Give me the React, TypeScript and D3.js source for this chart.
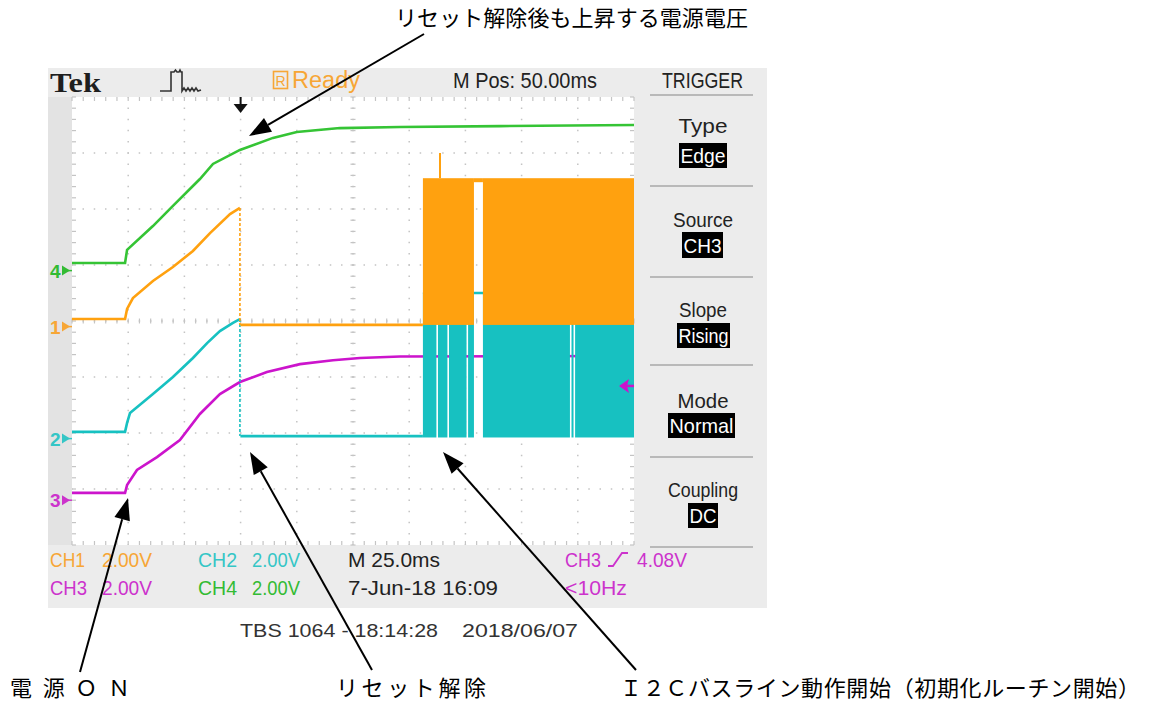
import * as d3 from "d3";

const WIDTH = 1150;
const HEIGHT = 704;

// scope settings: 25 ms/div, 2 V/div, 10 x 8 divisions
const timeDomain = [0, 250];
const timeTicks = d3.range(0, 251, 25);
const divTicks = d3.range(-4, 5, 1);
const VOLTS_PER_DIV = 2;
const RESET_T = 74.8; // reset release (fast falling edges)
const TRIGGER_T = 75;
const TRIGGER_LEVEL = 4.08;

// channel ground position, in divisions from centre
const ch1Offset = -0.1;
const ch2Offset = -2.1;
const ch3Offset = -3.2;
const ch4Offset = 0.9;

// CH4 (green) supply voltage: time ms / volts
const ch4Time = [0, 23.6, 24.5, 36.0, 44.9, 56.9, 62.7, 74.7, 89.4, 100, 119.2, 145.9, 190.4, 250];
const ch4Volt = [0.27, 0.27, 0.74, 1.59, 2.31, 3.27, 3.81, 4.31, 4.74, 4.95, 5.09, 5.13, 5.16, 5.2];

// CH1 (orange) SCL
const ch1Time = [0, 23.6, 24.5, 27.1, 36.0, 44.9, 53.8, 61.4, 70.3, 74.7, 74.9, 156.1];
const ch1Volt = [0.27, 0.27, 0.63, 1.02, 1.63, 2.13, 2.7, 3.34, 4.02, 4.24, 0.06, 0.06];
const ch1Bursts = [
  [156.1, 178.8],
  [182.8, 250],
];
const ch1Levels = [0.06, 5.3];
const ch1Spike = [163.7, 6.2];

// CH2 (cyan) SDA
const ch2Time = [0, 23.6, 24.5, 25.8, 36.0, 44.9, 53.8, 60.1, 65.8, 71.6, 74.7, 74.9, 156.1];
const ch2Volt = [0.24, 0.24, 0.56, 0.91, 1.59, 2.2, 2.88, 3.41, 3.84, 4.13, 4.27, 0.09, 0.09];
const ch2Bursts = [
  [156.1, 162.1],
  [162.8, 167.0],
  [167.7, 175.5],
  [176.2, 178.8],
  [182.8, 221.5],
  [222.2, 223.1],
  [223.8, 250],
];
const ch2Levels = [0.04, 5.2];

// CH3 (magenta) reset line
const ch3Time = [0, 23.6, 24.5, 28.9, 37.8, 48.0, 56.9, 65.8, 74.7, 86.7, 101.4, 116.1, 128.1, 145.9, 250];
const ch3Volt = [0.26, 0.26, 0.54, 1.08, 1.54, 2.15, 3.08, 3.79, 4.22, 4.58, 4.86, 5.0, 5.08, 5.13, 5.15];

const C1 = "#FFA10F";
const C2 = "#17C1C1";
const C3 = "#CC14CC";
const C4 = "#35C435";
const T1 = "#F7A636";
const T2 = "#35C6C6";
const T3 = "#CC33CC";
const T4 = "#33BB33";

const NARROW = "'Liberation Sans', Arial, sans-serif";
const JP = "'Noto Sans CJK JP', 'Noto Sans CJK SC', sans-serif";

const X0 = 72;
const X1 = 634;
const Y0 = 97;
const Y1 = 545;

const x = d3.scaleLinear().domain(timeDomain).range([X0, X1]);
const yDiv = d3.scaleLinear().domain([-4, 4]).range([Y1, Y0]);
const yCh = (offset: number) => (v: number) => yDiv(offset + v / VOLTS_PER_DIV);

type Pt = [number, number];
const zip = (t: number[], v: number[]): Pt[] => t.map((d, i) => [d, v[i]]);

const Narrow = ({ x, y, len, size = 21, fill = "#222", anchor = "start", children }: any) => (
  <text
    x={x}
    y={y}
    fontFamily={NARROW}
    fontSize={size}
    fill={fill}
    textAnchor={anchor}
    textLength={len}
    lengthAdjust="spacingAndGlyphs"
  >
    {children}
  </text>
);

const Arrow = ({ from, to }: { from: Pt; to: Pt }) => {
  const ang = Math.atan2(to[1] - from[1], to[0] - from[0]);
  const L = 22;
  const W = 8;
  const bx = to[0] - L * Math.cos(ang);
  const by = to[1] - L * Math.sin(ang);
  const px = -Math.sin(ang) * W;
  const py = Math.cos(ang) * W;
  return (
    <g>
      <line x1={from[0]} y1={from[1]} x2={bx} y2={by} stroke="#000" strokeWidth={2} />
      <path d={`M${to[0]},${to[1]} L${bx + px},${by + py} L${bx - px},${by - py} Z`} fill="#000" />
    </g>
  );
};

const Trace = ({ pts, offset, color, edge = false }: { pts: Pt[]; offset: number; color: string; edge?: boolean }) => {
  const y = yCh(offset);
  const line = d3
    .line<Pt>()
    .x((d) => x(d[0]))
    .y((d) => y(d[1]));
  if (!edge) {
    return <path d={line(pts) ?? ""} fill="none" stroke={color} strokeWidth={2.6} />;
  }
  const pre = pts.filter((d) => d[0] <= RESET_T);
  const post = pts.filter((d) => d[0] > RESET_T);
  const a = pre[pre.length - 1];
  const b = post[0];
  return (
    <g>
      <path d={line(pre) ?? ""} fill="none" stroke={color} strokeWidth={2.6} />
      <line
        x1={x(a[0])}
        y1={y(a[1])}
        x2={x(a[0])}
        y2={y(b[1])}
        stroke={color}
        strokeWidth={1.6}
        strokeDasharray="3 2"
      />
      <path d={line(post) ?? ""} fill="none" stroke={color} strokeWidth={2.6} />
    </g>
  );
};

const Bursts = ({ spans, levels, offset, color }: any) => {
  const y = yCh(offset);
  return (
    <g>
      {spans.map((s: number[], i: number) => (
        <rect
          key={i}
          x={x(s[0])}
          width={x(s[1]) - x(s[0])}
          y={y(levels[1])}
          height={y(levels[0]) - y(levels[1])}
          fill={color}
        />
      ))}
    </g>
  );
};

const Grid = () => {
  const subX = (X1 - X0) / 50;
  const subY = (Y1 - Y0) / 40;
  const xc = x(125);
  const yc = yDiv(0);
  const subXs = d3.range(0, 51).map((i) => X0 + i * subX);
  const subYs = d3.range(0, 41).map((i) => Y0 + i * subY);
  const g = "#c4c4c4";
  return (
    <g>
      {timeTicks.slice(1, -1).map((t) => (
        <line
          key={"v" + t}
          x1={x(t)}
          x2={x(t)}
          y1={Y0}
          y2={Y1}
          stroke={g}
          strokeWidth={1.5}
          strokeDasharray={`1.5 ${subY - 1.5}`}
          strokeDashoffset={0.75}
        />
      ))}
      {divTicks.slice(1, -1).map((d) => (
        <line
          key={"h" + d}
          x1={X0}
          x2={X1}
          y1={yDiv(d)}
          y2={yDiv(d)}
          stroke={g}
          strokeWidth={1.5}
          strokeDasharray={`1.5 ${subX - 1.5}`}
          strokeDashoffset={0.75}
        />
      ))}
      {subXs.map((sx, i) => (
        <g key={"tx" + i} stroke={g} strokeWidth={1.2}>
          <line x1={sx} x2={sx} y1={Y0} y2={Y0 + 4} />
          <line x1={sx} x2={sx} y1={Y1 - 4} y2={Y1} />
          <line x1={sx} x2={sx} y1={yc - 2.5} y2={yc + 2.5} />
        </g>
      ))}
      {subYs.map((sy, i) => (
        <g key={"ty" + i} stroke={g} strokeWidth={1.2}>
          <line x1={X0} x2={X0 + 4} y1={sy} y2={sy} />
          <line x1={X1 - 4} x2={X1} y1={sy} y2={sy} />
          <line x1={xc - 2.5} x2={xc + 2.5} y1={sy} y2={sy} />
        </g>
      ))}
    </g>
  );
};

const Marker = ({ label, offset, color }: any) => {
  const y = yDiv(offset);
  return (
    <g fill={color}>
      <text x={50} y={y + 7} fontFamily={NARROW} fontSize={19} fontWeight="bold">
        {label}
      </text>
      <path d={`M62,${y - 5} L70,${y} L62,${y + 5} Z`} />
      <line x1={62} x2={72} y1={y} y2={y} stroke={color} strokeWidth={1.5} />
    </g>
  );
};

const MenuItem = ({ label, value, labelY, len, box }: any) => (
  <g>
    <Narrow x={703} y={labelY} len={len} size={21} anchor="middle">
      {label}
    </Narrow>
    <rect x={box[0]} y={box[1]} width={box[2] - box[0]} height={box[3] - box[1]} fill="#000" />
    <Narrow
      x={(box[0] + box[2]) / 2}
      y={box[3] - 5}
      len={box[2] - box[0] - 3}
      size={21}
      fill="#fff"
      anchor="middle"
    >
      {value}
    </Narrow>
  </g>
);

export default function App() {
  const y1 = yCh(ch1Offset);
  const y3 = yCh(ch3Offset);
  const trigY = y3(TRIGGER_LEVEL);
  const trigX = x(TRIGGER_T);

  return (
    <svg
      width={WIDTH}
      height={HEIGHT}
      style={{ position: "absolute", left: 0, top: 0, background: "#fff" }}
    >
      <rect width={WIDTH} height={HEIGHT} fill="#fff" />

      {/* scope frame */}
      <rect x={48} y={68} width={719} height={540} fill="#ececec" />
      <rect x={48} y={Y0} width={X0 - 48} height={Y1 - Y0} fill="#e3e3e3" />
      <rect x={X0} y={Y0} width={X1 - X0} height={Y1 - Y0} fill="#fff" />
      <Grid />

      {/* header */}
      <text
        x={50}
        y={92}
        fontFamily="'Liberation Serif', 'DejaVu Serif', serif"
        fontWeight="bold"
        fontSize={28}
        fill="#1e1e1e"
        textLength={51}
        lengthAdjust="spacingAndGlyphs"
      >
        Tek
      </text>
      <path
        d="M160,91 H171 V72 H174 L175.5,70 L177,72 H179 L180,70 L181,72 H182 V91 L184,88 L186,91 L188,88 L190,91 L192,88 L194,91 L196,88 L198,91 L201,90"
        fill="none"
        stroke="#333"
        strokeWidth={1.6}
      />
      <rect x={273.5} y={71.5} width={14} height={17} fill="none" stroke={T1} strokeWidth={1.6} />
      <text x={280.5} y={86} fontFamily={NARROW} fontSize={14} fill={T1} textAnchor="middle">
        R
      </text>
      <Narrow x={292} y={88} len={68} size={23} fill={T1}>
        Ready
      </Narrow>
      <Narrow x={453} y={88} len={144} size={22}>
        M Pos: 50.00ms
      </Narrow>
      <Narrow x={662} y={88} len={81} size={22}>
        TRIGGER
      </Narrow>

      {/* trigger position */}
      <line x1={trigX} x2={trigX} y1={Y0} y2={106} stroke="#111" strokeWidth={2} />
      <path d={`M${trigX - 7},${104} L${trigX + 7},${104} L${trigX},${113} Z`} fill="#111" />

      {/* traces: CH3 under CH2 under CH1, CH4 */}
      <Trace pts={zip(ch3Time, ch3Volt)} offset={ch3Offset} color={C3} />
      <line
        x1={x(ch2Bursts[0][0])}
        x2={x(250)}
        y1={yCh(ch2Offset)(ch2Levels[1])}
        y2={yCh(ch2Offset)(ch2Levels[1])}
        stroke={C2}
        strokeWidth={2.6}
      />
      <Trace pts={zip(ch2Time, ch2Volt)} offset={ch2Offset} color={C2} edge />
      <Bursts spans={ch2Bursts} levels={ch2Levels} offset={ch2Offset} color={C2} />
      <Trace pts={zip(ch1Time, ch1Volt)} offset={ch1Offset} color={C1} edge />
      <line
        x1={x(ch1Bursts[0][1])}
        x2={x(ch1Bursts[1][0])}
        y1={y1(ch1Levels[1]) + 2}
        y2={y1(ch1Levels[1]) + 2}
        stroke={C1}
        strokeWidth={4}
      />
      <Bursts spans={ch1Bursts} levels={ch1Levels} offset={ch1Offset} color={C1} />
      <line
        x1={x(ch1Spike[0])}
        x2={x(ch1Spike[0])}
        y1={y1(ch1Levels[1])}
        y2={y1(ch1Spike[1])}
        stroke={C1}
        strokeWidth={2}
      />
      <Trace pts={zip(ch4Time, ch4Volt)} offset={ch4Offset} color={C4} />

      {/* trigger level */}
      <path
        d={`M${X1 - 15},${trigY} L${X1 - 5},${trigY - 7} L${X1 - 7},${trigY} L${X1 - 5},${trigY + 7} Z`}
        fill={C3}
      />
      <line x1={X1 - 9} x2={X1} y1={trigY} y2={trigY} stroke={C3} strokeWidth={2.5} />

      {/* ground markers */}
      <Marker label="4" offset={ch4Offset} color={T4} />
      <Marker label="1" offset={ch1Offset} color={T1} />
      <Marker label="2" offset={ch2Offset} color={T2} />
      <Marker label="3" offset={ch3Offset} color={T3} />

      {/* trigger menu */}
      {[95, 186, 277, 365, 457, 547].map((sy) => (
        <line key={sy} x1={650} x2={753} y1={sy} y2={sy} stroke="#a8a8a8" strokeWidth={1.5} />
      ))}
      <MenuItem label="Type" value="Edge" labelY={133} len={49} box={[679, 143, 727, 168]} />
      <MenuItem label="Source" value="CH3" labelY={227} len={60} box={[682, 232, 723, 258]} />
      <MenuItem label="Slope" value="Rising" labelY={317} len={48} box={[677, 323, 730, 348]} />
      <MenuItem label="Mode" value="Normal" labelY={408} len={51} box={[668, 413, 735, 438]} />
      <MenuItem label="Coupling" value="DC" labelY={497} len={70} box={[688, 503, 718, 528]} />

      {/* status bar */}
      <Narrow x={50} y={567} len={35} fill={T1}>CH1</Narrow>
      <Narrow x={102} y={567} len={50} fill={T1}>2.00V</Narrow>
      <Narrow x={198} y={567} len={39} fill={T2}>CH2</Narrow>
      <Narrow x={252} y={567} len={48} fill={T2}>2.00V</Narrow>
      <Narrow x={348} y={567} len={92}>M 25.0ms</Narrow>
      <Narrow x={565} y={567} len={36} fill={T3}>CH3</Narrow>
      <path d="M608,566 H613 L622,553 H628" fill="none" stroke={T3} strokeWidth={1.8} />
      <Narrow x={637} y={567} len={50} fill={T3}>4.08V</Narrow>
      <Narrow x={50} y={595} len={37} fill={T3}>CH3</Narrow>
      <Narrow x={102} y={595} len={50} fill={T3}>2.00V</Narrow>
      <Narrow x={198} y={595} len={39} fill={T4}>CH4</Narrow>
      <Narrow x={252} y={595} len={48} fill={T4}>2.00V</Narrow>
      <Narrow x={348} y={595} len={150}>7-Jun-18 16:09</Narrow>
      <Narrow x={565} y={595} len={62} fill={T3}>&lt;10Hz</Narrow>

      {/* caption under the screenshot */}
      <text
        x={240}
        y={637}
        fontFamily="'Liberation Sans', Arial, sans-serif"
        fontSize={19}
        fill="#333"
        textLength={198}
        lengthAdjust="spacingAndGlyphs"
      >
        TBS 1064 - 18:14:28
      </text>
      <text
        x={462}
        y={637}
        fontFamily="'Liberation Sans', Arial, sans-serif"
        fontSize={19}
        fill="#333"
        textLength={116}
        lengthAdjust="spacingAndGlyphs"
      >
        2018/06/07
      </text>

      {/* annotations */}
      <text x={395} y={26} fontFamily={JP} fontSize={22} fill="#000" textLength={353} lengthAdjust="spacing">
        リセット解除後も上昇する電源電圧
      </text>
      <text x={10} y={696} fontFamily={JP} fontSize={22} fill="#000" textLength={120} lengthAdjust="spacing">
        電源ＯＮ
      </text>
      <text x={336} y={696} fontFamily={JP} fontSize={22} fill="#000" textLength={150} lengthAdjust="spacing">
        リセット解除
      </text>
      <text x={620} y={696} fontFamily={JP} fontSize={22} fill="#000" textLength={520} lengthAdjust="spacing">
        Ｉ２Ｃバスライン動作開始（初期化ルーチン開始）
      </text>
      <Arrow from={[424, 34]} to={[249, 136]} />
      <Arrow from={[80, 672]} to={[128, 498]} />
      <Arrow from={[372, 670]} to={[250, 452]} />
      <Arrow from={[636, 670]} to={[443, 452]} />
    </svg>
  );
}
